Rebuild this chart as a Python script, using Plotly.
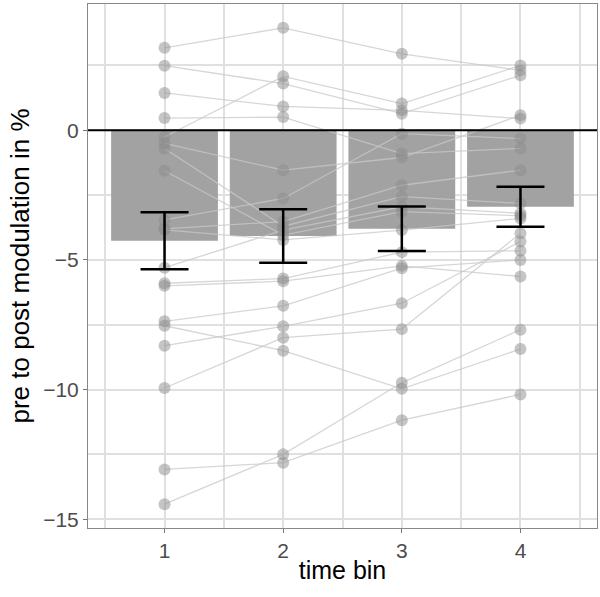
import plotly.graph_objects as go

time_bins = [1, 2, 3, 4]

# per-subject values (bin1, bin2, bin3, bin4)
subjects = [
    [3.18, 3.95, 2.95, 2.31],
    [2.49, 1.80, 0.64, 2.12],
    [1.44, 0.92, 0.77, 0.45],
    [0.47, 0.51, -0.90, -0.70],
    [-0.26, 2.08, 1.03, 2.50],
    [-0.51, -1.54, -1.05, 0.58],
    [-0.70, -3.70, -2.56, -2.82],
    [-1.56, -4.04, -3.14, -3.30],
    [-3.46, -2.63, -0.13, -0.32],
    [-3.80, -3.52, -2.12, -1.54],
    [-3.84, -4.23, -3.85, -3.40],
    [-5.30, -3.85, -2.95, -3.20],
    [-5.90, -5.72, -4.70, -4.65],
    [-6.00, -5.82, -5.23, -5.64],
    [-7.37, -6.77, -5.32, -5.00],
    [-7.54, -8.50, -9.97, -8.44],
    [-8.31, -7.56, -6.67, -4.29],
    [-9.94, -8.00, -7.67, -3.97],
    [-13.08, -12.82, -11.18, -10.19],
    [-14.42, -12.50, -9.74, -7.69],
]

bar_means = [-4.26, -4.08, -3.80, -2.95]
bar_se = [1.10, 1.03, 0.86, 0.77]

fig = go.Figure()

fig.add_trace(go.Bar(
    x=time_bins, y=bar_means, width=0.9,
    marker=dict(color="#a2a2a2", line=dict(width=0)),
    showlegend=False, hoverinfo="skip",
))

for s in subjects:
    fig.add_trace(go.Scatter(
        x=time_bins, y=s, mode="lines",
        line=dict(color="rgba(200,200,200,0.75)", width=1.3),
        showlegend=False, hoverinfo="skip",
    ))

for s in subjects:
    fig.add_trace(go.Scatter(
        x=time_bins, y=s, mode="markers",
        marker=dict(color="rgba(140,140,140,0.5)", size=12, line=dict(width=0)),
        showlegend=False, hoverinfo="skip",
    ))

fig.add_hline(y=0, line=dict(color="black", width=2), layer="above")

fig.add_trace(go.Scatter(
    x=time_bins, y=bar_means, mode="markers",
    marker=dict(size=0.1, color="rgba(0,0,0,0)"),
    error_y=dict(type="data", array=bar_se, visible=True,
                 color="black", thickness=2.5, width=24),
    showlegend=False, hoverinfo="skip",
))

grid = "#e0e0e0"
fig.update_layout(
    width=600, height=597,
    margin=dict(l=88, r=3, t=4, b=69),
    paper_bgcolor="white", plot_bgcolor="white",
    font=dict(family="Liberation Sans, Arial, sans-serif"),
    xaxis=dict(
        range=[0.355, 4.645], tickvals=time_bins, ticktext=["1", "2", "3", "4"],
        showgrid=True, gridcolor=grid, gridwidth=2,
        minor=dict(tickvals=[0.5, 1.5, 2.5, 3.5, 4.5], showgrid=True,
                   gridcolor=grid, gridwidth=1.5),
        ticks="outside", ticklen=4, tickcolor="#777", tickwidth=1,
        tickfont=dict(size=21, color="#4d4d4d"),
        title=dict(text="time bin", font=dict(size=25, color="black"), standoff=0),
        showline=True, linecolor="#888", linewidth=1, mirror=True, zeroline=False,
        automargin=False,
    ),
    yaxis=dict(
        range=[-15.34, 4.87], tickvals=[0, -5, -10, -15], ticktext=["0", "\u22125", "\u221210", "\u221215"],
        showgrid=True, gridcolor=grid, gridwidth=2,
        minor=dict(tickvals=[2.5, -2.5, -7.5, -12.5], showgrid=True,
                   gridcolor=grid, gridwidth=1.5),
        ticks="outside", ticklen=4, tickcolor="#777", tickwidth=1,
        tickfont=dict(size=21, color="#4d4d4d"),
        title=dict(text="pre to post modulation in %", font=dict(size=26, color="black"), standoff=6),
        showline=True, linecolor="#888", linewidth=1, mirror=True, zeroline=False,
        automargin=False,
    ),
)

fig.write_html("out.html", config={"displayModeBar": False},
               post_script="document.body.style.margin='0';document.body.style.overflow='hidden';")
